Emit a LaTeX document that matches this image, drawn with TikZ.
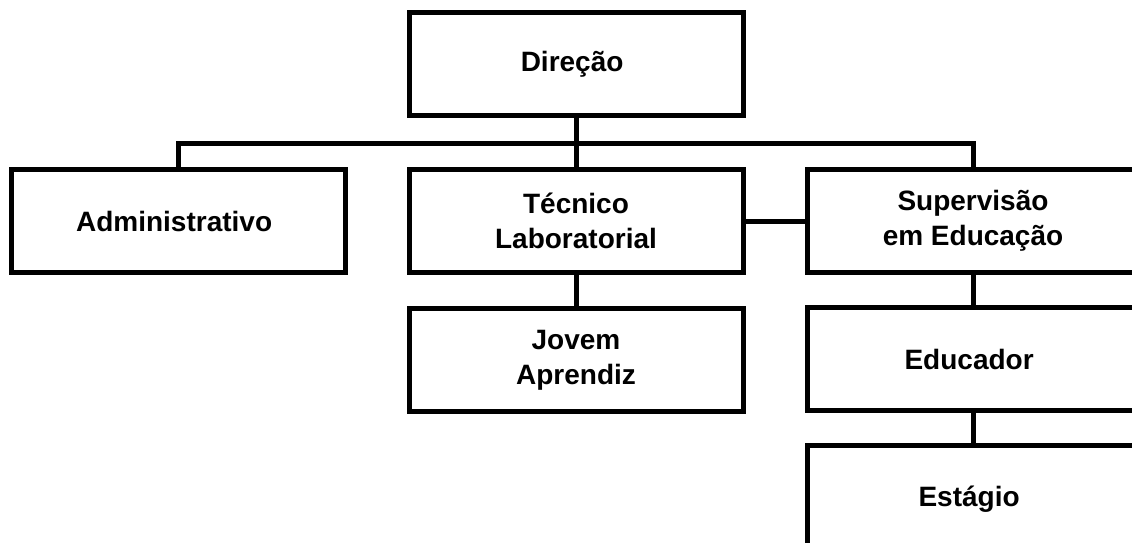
\documentclass[tikz,border=0pt]{standalone}
\usepackage{fontspec}
\setmainfont{Liberation Sans}

\def\W{334}
\def\H{103}

\tikzset{
    box/.style={draw, line width=5pt, minimum width=\W pt, minimum height=\H pt, inner sep=0pt,
        align=center, font=\bfseries\fontsize{28}{35}\selectfont},
    link/.style={line width=5pt}
}

\begin{document}
\begin{tikzpicture}[x=1pt, y=-1pt]
            \useasboundingbox (0,0) rectangle (1132,543);
            \clip (0,0) rectangle (1132,543);

            \node[box] (dir) at (576,64) { Direção };
            \node[box] (adm) at (178,221) { Administrativo };
            \node[box] (tec) at (576,221) { Técnico\\Laboratorial };
            \node[box, minimum width=332pt] (sup) at (973,221) { Supervisão\\em Educação };
            \node[box] (jov) at (576,360) { Jovem\\Aprendiz };
            \node[box, minimum width=332pt] (edu) at (973,359) { Educador };
            \node[box, minimum width=332pt, minimum height=108pt] (est) at (973,499) { Estágio };

            \coordinate (bus) at (576,143);
            \draw[link] (dir) -- (tec);
            \draw[link] (adm.north) |- (bus) -| (sup.north);
            \draw[link] (tec) -- (sup);
            \draw[link] (tec) -- (jov);
            \draw[link] (sup) -- (edu);
            \draw[link] (edu) -- (est);

        \end{tikzpicture}
\end{document}
